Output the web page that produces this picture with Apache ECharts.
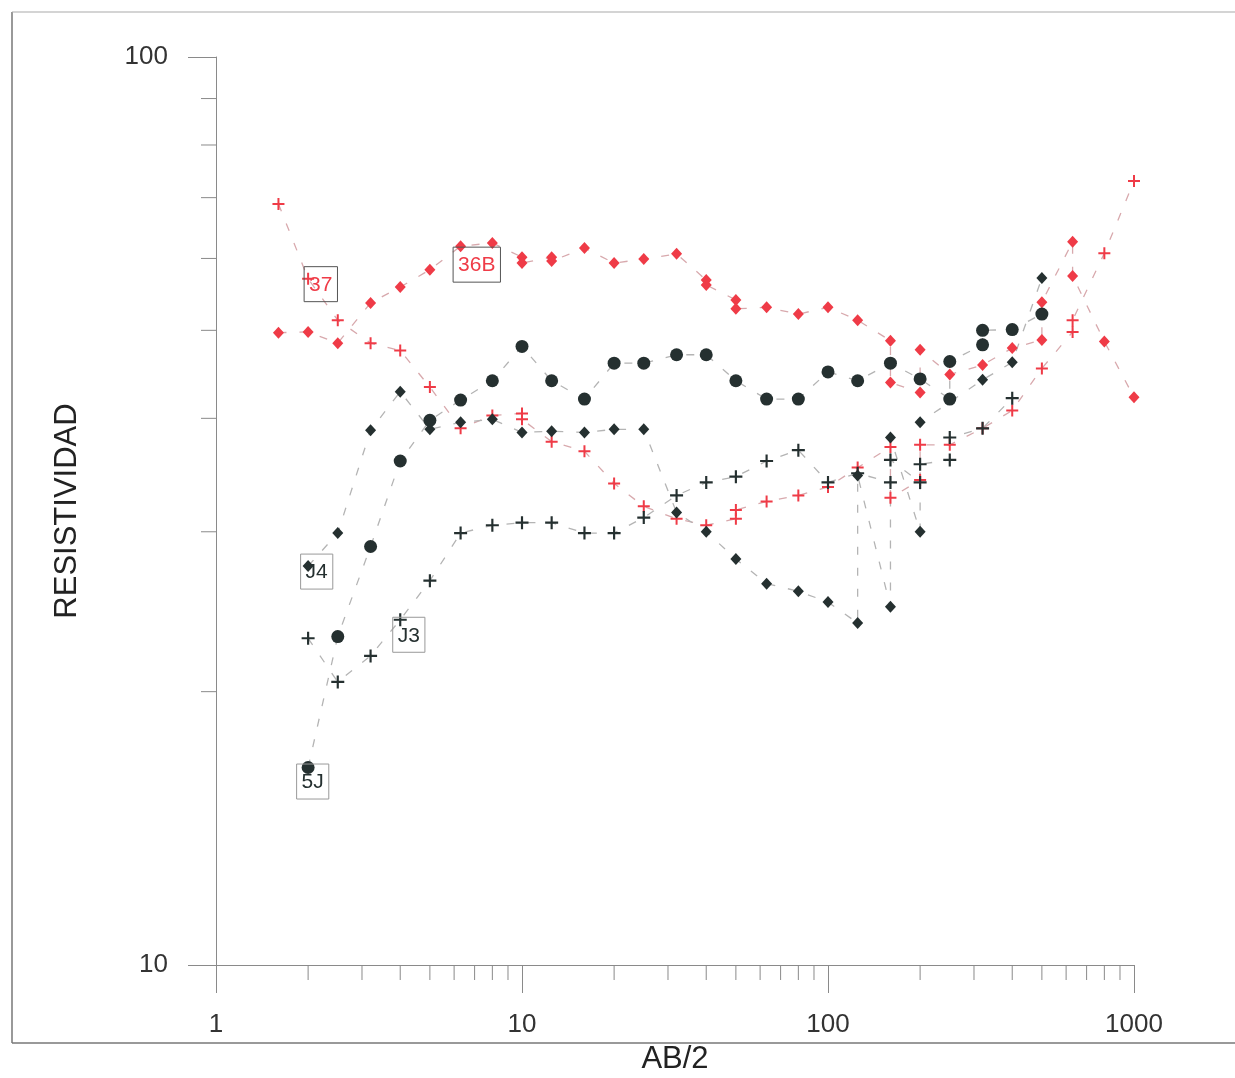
<!DOCTYPE html>
<html>
<head>
<meta charset="utf-8">
<script src="https://cdn.jsdelivr.net/npm/echarts@6/dist/echarts.min.js"></script>
<style>
  html, body { margin: 0; padding: 0; background: #fff; overflow: hidden; }
  #chart { width: 1235px; height: 1078px; }
</style>
</head>
<body>
<div id="chart"></div>
<script>
// Vertical electrical soundings: apparent resistivity against AB/2 (log-log)

// Sounding 37
const ab37 = [1.6, 2, 2.5, 3.2, 4, 5, 6.3, 8, 10, 10, 12.5, 16, 20, 25, 32, 40, 50, 50, 63, 80, 100, 125, 160, 160, 200, 200, 250, 320, 400, 500, 630, 630, 800, 1000];
const rho37 = [68.9, 57.0, 51.3, 48.4, 47.5, 43.3, 39.0, 40.3, 40.5, 39.9, 37.7, 36.8, 33.9, 32.0, 31.0, 30.5, 31.0, 31.7, 32.4, 32.9, 33.6, 35.3, 37.2, 32.7, 34.2, 37.4, 37.4, 39.0, 40.8, 45.4, 49.8, 51.3, 60.8, 73.0];

// Sounding 36B
const ab36B = [1.6, 2, 2.5, 3.2, 4, 5, 6.3, 8, 10, 10, 12.5, 12.5, 16, 20, 25, 32, 40, 40, 50, 50, 63, 80, 100, 125, 160, 160, 200, 200, 250, 320, 400, 500, 500, 630, 630, 800, 1000];
const rho36B = [49.7, 49.8, 48.4, 53.6, 55.8, 58.3, 61.9, 62.4, 60.2, 59.3, 60.2, 59.6, 61.6, 59.3, 59.9, 60.7, 56.8, 56.1, 54.0, 52.8, 53.0, 52.1, 53.0, 51.3, 48.7, 43.8, 42.7, 47.6, 44.7, 45.8, 47.8, 48.8, 53.7, 62.6, 57.4, 48.6, 42.2];

// Sounding J4
const abJ4 = [2, 2.5, 3.2, 4, 5, 6.3, 8, 10, 12.5, 16, 20, 25, 32, 40, 50, 63, 80, 100, 125, 125, 160, 160, 200, 200, 320, 400, 500];
const rhoJ4 = [27.5, 29.9, 38.8, 42.8, 38.9, 39.6, 39.9, 38.6, 38.7, 38.6, 38.9, 38.9, 31.5, 30.0, 28.0, 26.3, 25.8, 25.1, 23.8, 34.6, 24.8, 38.1, 30.0, 39.6, 44.1, 46.1, 57.1];

// Sounding J3
const abJ3 = [2, 2.5, 3.2, 4, 5, 6.3, 8, 10, 12.5, 16, 20, 25, 32, 40, 50, 63, 80, 100, 125, 160, 160, 200, 200, 250, 250, 320, 400];
const rhoJ3 = [22.9, 20.5, 21.9, 24.0, 26.5, 29.9, 30.5, 30.7, 30.7, 29.9, 29.9, 31.1, 32.9, 34.0, 34.5, 35.9, 36.9, 34.0, 34.8, 34.0, 36.0, 34.0, 35.6, 36.0, 38.1, 39.0, 42.1];

// Sounding 5J
const ab5J = [2, 2.5, 3.2, 4, 5, 6.3, 8, 10, 12.5, 16, 20, 25, 32, 40, 50, 63, 80, 100, 125, 160, 200, 250, 250, 320, 320, 400, 500];
const rho5J = [16.5, 23.0, 28.9, 35.9, 39.8, 41.9, 44.0, 48.0, 44.0, 42.0, 46.0, 46.0, 47.0, 47.0, 44.0, 42.0, 42.0, 45.0, 44.0, 46.0, 44.2, 42.0, 46.2, 48.2, 50.0, 50.1, 52.1];

// Axis minor tick values
const minorAB = [2, 3, 4, 5, 6, 7, 8, 9, 20, 30, 40, 50, 60, 70, 80, 90, 200, 300, 400, 500, 600, 700, 800, 900];
const minorRho = [20, 30, 40, 50, 60, 70, 80, 90];

const RED = '#ef3b47';
const DARK = '#253030';
const FONT = '"Liberation Sans", Arial, sans-serif';
const PLUS = 'path://M5,0h2v5h5v2h-5v5h-2v-5h-5v-2h5z';

// which point carries the name tag of each sounding
const tagOf = {
  '37':  { at: 1, offset: [2, -6],    color: RED,  border: '#555' },
  '36B': { at: 6, offset: [-2, 7],    color: RED,  border: '#555' },
  'J4':  { at: 0, offset: [-2, -6],   color: DARK, border: '#999' },
  'J3':  { at: 3, offset: [-1, 4],    color: DARK, border: '#999' },
  '5J':  { at: 0, offset: [-5, 3],    color: DARK, border: '#999' }
};

function sounding(name, xs, ys, symbol, size, color, lineColor) {
  const tag = tagOf[name];
  const data = xs.map((x, i) => {
    const item = { value: [x, ys[i]] };
    if (i === tag.at) {
      item.label = {
        show: true,
        formatter: name,
        position: tag.offset,
        color: tag.color,
        fontSize: 21,
        fontFamily: FONT,
        borderColor: tag.border,
        borderWidth: 1,
        padding: [8, 5, 6, 5]
      };
    }
    return item;
  });
  return {
    name: name,
    type: 'line',
    data: data,
    symbol: symbol,
    symbolSize: size,
    showSymbol: true,
    itemStyle: { color: color, borderWidth: 0 },
    lineStyle: { color: lineColor, width: 1.3, type: [8, 13] },
    label: { show: false },
    emphasis: { disabled: true },
    z: 3
  };
}

const chart = echarts.init(document.getElementById('chart'), null, { renderer: 'canvas' });

const tickStyle = { color: '#8a8a8a', width: 1 };

const option = {
  backgroundColor: '#ffffff',
  animation: false,
  grid: { left: 216, right: 101, top: 57, bottom: 113, containLabel: false, outerBoundsMode: 'none' },
  xAxis: {
    type: 'log',
    logBase: 10,
    min: 1,
    max: 1000,
    name: 'AB/2',
    nameLocation: 'middle',
    nameGap: 79,
    nameTextStyle: { fontSize: 31, color: '#222', fontFamily: FONT },
    axisLine: { show: true, lineStyle: tickStyle },
    axisTick: { show: true, length: 28, lineStyle: tickStyle },
    axisLabel: { fontSize: 26, color: '#333', fontFamily: FONT, margin: 47, formatter: v => String(v) },
    splitLine: { show: false },
    minorTick: { show: false }
  },
  yAxis: {
    type: 'log',
    logBase: 10,
    min: 10,
    max: 100,
    name: 'RESISTIVIDAD',
    nameLocation: 'middle',
    nameGap: 133,
    nameRotate: 90,
    nameTextStyle: { fontSize: 31, color: '#222', fontFamily: FONT },
    axisLine: { show: true, lineStyle: tickStyle },
    axisTick: { show: true, length: 28, lineStyle: tickStyle },
    axisLabel: { fontSize: 26, color: '#333', fontFamily: FONT, margin: 48, formatter: v => String(v) },
    splitLine: { show: false }
  },
  graphic: [
    { type: 'line', shape: { x1: 12, y1: 12, x2: 12, y2: 1043 }, style: { stroke: '#777', lineWidth: 1.5 } },
    { type: 'line', shape: { x1: 12, y1: 12, x2: 1235, y2: 12 }, style: { stroke: '#aaa', lineWidth: 1.2 } },
    { type: 'line', shape: { x1: 12, y1: 1043, x2: 1235, y2: 1043 }, style: { stroke: '#777', lineWidth: 1.5 } }
  ],
  series: [
    // minor ticks along AB/2
    {
      type: 'custom',
      silent: true,
      clip: false,
      data: minorAB.map(v => [v, 10]),
      renderItem: (params, api) => {
        const p = api.coord([api.value(0), api.value(1)]);
        return { type: 'line', shape: { x1: p[0], y1: p[1], x2: p[0], y2: p[1] + 15 }, style: { stroke: '#8a8a8a', lineWidth: 1 } };
      },
      z: 1
    },
    // minor ticks along resistivity
    {
      type: 'custom',
      silent: true,
      clip: false,
      data: minorRho.map(v => [1, v]),
      renderItem: (params, api) => {
        const p = api.coord([api.value(0), api.value(1)]);
        return { type: 'line', shape: { x1: p[0] - 15, y1: p[1], x2: p[0], y2: p[1] }, style: { stroke: '#8a8a8a', lineWidth: 1 } };
      },
      z: 1
    },
    sounding('37', ab37, rho37, PLUS, 12, RED, '#d8a9ad'),
    sounding('36B', ab36B, rho36B, 'diamond', [11, 12], RED, '#d8a9ad'),
    sounding('J4', abJ4, rhoJ4, 'diamond', [11, 12], DARK, '#b4b4b4'),
    sounding('J3', abJ3, rhoJ3, PLUS, 13, DARK, '#b4b4b4'),
    sounding('5J', ab5J, rho5J, 'circle', 13, DARK, '#b4b4b4')
  ]
};

chart.setOption(option);
</script>
</body>
</html>
